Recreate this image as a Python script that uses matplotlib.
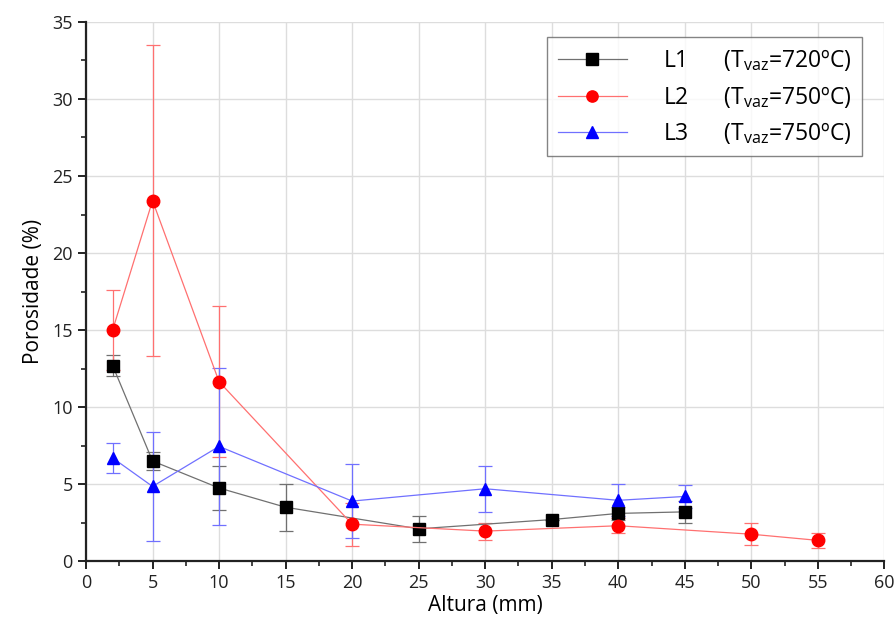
import matplotlib.pyplot as plt

# Altura (mm) / Porosidade (%)
x_l1 = [2, 5, 10, 15, 25, 35, 40, 45]
y_l1 = [12.7, 6.5, 4.75, 3.5, 2.1, 2.7, 3.1, 3.2]
e_l1 = [0.68, 0.57, 1.43, 1.52, 0.85, 0.0, 0.4, 0.7]

x_l2 = [2, 5, 10, 20, 30, 40, 50, 55]
y_l2 = [15.0, 23.4, 11.65, 2.4, 1.95, 2.3, 1.75, 1.35]
e_l2 = [2.6, 10.1, 4.9, 1.4, 0.55, 0.5, 0.72, 0.5]

x_l3 = [2, 5, 10, 20, 30, 40, 45]
y_l3 = [6.7, 4.85, 7.45, 3.9, 4.7, 3.95, 4.2]
e_l3 = [0.98, 3.56, 5.1, 2.4, 1.5, 1.05, 0.75]

labels = ['L1', 'L2', 'L3']
temps = ['720', '750', '750']

plt.rcParams['font.family'] = ['Open Sans', 'DejaVu Sans']

fig = plt.figure(figsize=(8.96, 6.27), dpi=100)
ax = fig.add_axes([0.096, 0.105, 0.891, 0.86])

series = [
    (x_l1, y_l1, e_l1, 's', 'black', '#707070'),
    (x_l2, y_l2, e_l2, 'o', 'red', '#ff7070'),
    (x_l3, y_l3, e_l3, '^', 'blue', '#7070ff'),
]

handles = []
for (xs, ys, es, mk, col, light), lab, t in zip(series, labels, temps):
    ax.errorbar(xs, ys, yerr=es, fmt='none', ecolor=light, elinewidth=0.9,
                capsize=5, capthick=0.9, zorder=2)
    h, = ax.plot(xs, ys, color=light, lw=0.9, marker=mk, markersize=9,
                 markerfacecolor=col, markeredgecolor=col, zorder=3,
                 label=lab + '      (T$\\mathregular{_{vaz}}$=' + t + 'ºC)')
    handles.append(h)

ax.set_xlim(0, 60)
ax.set_ylim(0, 35)
ax.set_xticks(range(0, 61, 5))
ax.set_yticks(range(0, 36, 5))
ax.set_xticks([i + 2.5 for i in range(0, 60, 5)], minor=True)
ax.set_yticks([i + 2.5 for i in range(0, 35, 5)], minor=True)
ax.grid(True, which='major', color='#dddddd', lw=1)
ax.set_axisbelow(True)

for s in ['top', 'right']:
    ax.spines[s].set_visible(False)
for s in ['left', 'bottom']:
    ax.spines[s].set_linewidth(1.6)
    ax.spines[s].set_color('#222222')

ax.tick_params(which='major', direction='out', length=6, width=1.4,
               labelsize=13, colors='#222222')
ax.tick_params(which='minor', direction='out', length=3.5, width=1.2,
               colors='#222222')

ax.set_xlabel('Altura (mm)', fontsize=15, labelpad=2)
ax.set_ylabel('Porosidade (%)', fontsize=15, labelpad=6)

leg = ax.legend(handles=handles, loc='upper right', bbox_to_anchor=(0.972, 0.972),
                fontsize=16.5, frameon=True, fancybox=False, edgecolor='#666666',
                handlelength=3.0, borderpad=0.45, labelspacing=0.45,
                handletextpad=1.6, borderaxespad=0, markerscale=0.9)
leg.get_frame().set_linewidth(1.0)

fig.savefig('out.png', dpi=100)
